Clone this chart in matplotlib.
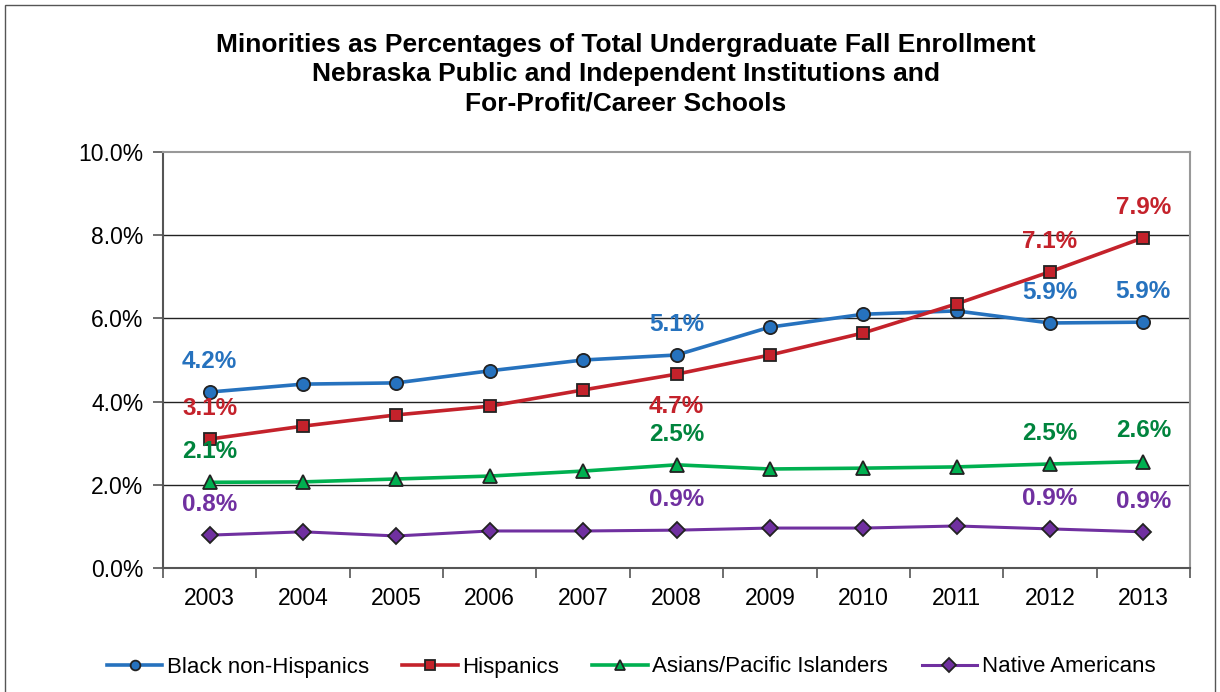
import matplotlib
matplotlib.use("Agg")
import matplotlib.pyplot as plt
from matplotlib.patches import Rectangle
from matplotlib.ticker import FixedLocator

plt.rcParams['font.family'] = ['Liberation Sans', 'DejaVu Sans']

years = ["2003", "2004", "2005", "2006", "2007", "2008", "2009", "2010", "2011", "2012", "2013"]
black = [4.23, 4.42, 4.45, 4.74, 5.00, 5.12, 5.79, 6.10, 6.18, 5.89, 5.91]
hispanic = [3.10, 3.41, 3.68, 3.89, 4.28, 4.66, 5.12, 5.65, 6.35, 7.12, 7.94]
asian = [2.06, 2.07, 2.14, 2.21, 2.33, 2.48, 2.38, 2.40, 2.43, 2.50, 2.56]
native = [0.79, 0.87, 0.77, 0.89, 0.89, 0.91, 0.96, 0.96, 1.01, 0.94, 0.87]
labeled_idx = [0, 5, 9, 10]
yticks = [0, 2, 4, 6, 8, 10]

series = [
    ("Black non-Hispanics", black, "#2672BE", "#2672BE", "o", 9.5, 2.6),
    ("Hispanics", hispanic, "#C4222B", "#C4222B", "s", 9, 2.6),
    ("Asians/Pacific Islanders", asian, "#00B050", "#00843D", "^", 10, 2.6),
    ("Native Americans", native, "#7030A0", "#7030A0", "D", 8, 2.2),
]

fig = plt.figure(figsize=(12.2, 6.92), dpi=100)
fig.patches.append(Rectangle((5/1220, -0.01), 1210/1220, 1 - 5/692 + 0.01, transform=fig.transFigure,
                             fill=False, edgecolor="#555555", linewidth=1.0))
ax = fig.add_axes([163/1220, 1 - 568/692, (1190-163)/1220, (568-152)/692])

x = list(range(len(years)))
handles = []
for name, vals, lc, tc, mk, ms, lw in series:
    h, = ax.plot(x, vals, color=lc, linewidth=lw, marker=mk, markersize=ms,
                 markerfacecolor=lc, markeredgecolor="#222222", markeredgewidth=1.3,
                 label=name, zorder=3)
    handles.append(h)
    for i in labeled_idx:
        below = (name == "Hispanics" and i == 5)
        off = -23 if below else 22
        ax.annotate(f"{vals[i]:.1f}%", (x[i], vals[i]), xytext=(0, off), textcoords="offset points",
                    ha="center", va="center", fontsize=17.5, fontweight="bold", color=tc, zorder=4)

ax.set_xlim(-0.5, len(years) - 0.5)
ax.set_ylim(0, 10)
ax.set_yticks(yticks)
ax.set_yticklabels([f"{v:.1f}%" for v in yticks], fontsize=16.5)
ax.set_xticks(x)
ax.set_xticklabels(years, fontsize=16.5)
ax.xaxis.set_minor_locator(FixedLocator([i - 0.5 for i in range(len(years) + 1)]))
ax.tick_params(axis="x", which="major", length=0, pad=14)
ax.tick_params(axis="x", which="minor", length=7, width=1.2, color="#555555", direction="out")
ax.tick_params(axis="y", length=7, width=1.2, color="#555555", direction="out", pad=7)
for v in yticks[1:-1]:
    ax.axhline(v, color="#222222", linewidth=1.0, zorder=1)
for s in ["left", "bottom"]:
    ax.spines[s].set_color("#555555")
    ax.spines[s].set_linewidth(1.5)
for s in ["top", "right"]:
    ax.spines[s].set_color("#999999")
    ax.spines[s].set_linewidth(1.5)

fig.text(626/1220, 1 - 74/692,
         "Minorities as Percentages of Total Undergraduate Fall Enrollment\n"
         "Nebraska Public and Independent Institutions and\n"
         "For-Profit/Career Schools",
         ha="center", va="center", fontsize=19, fontweight="bold", linespacing=1.27)

leg = fig.legend(handles=handles, loc="center", bbox_to_anchor=(631/1220, 1 - 667/692), ncol=4,
                 frameon=False, fontsize=16, handlelength=2.5, columnspacing=1.5, handletextpad=0.2)
for lh in leg.legend_handles:
    lh.set_markersize(7)

fig.savefig("out.png", dpi=100)
